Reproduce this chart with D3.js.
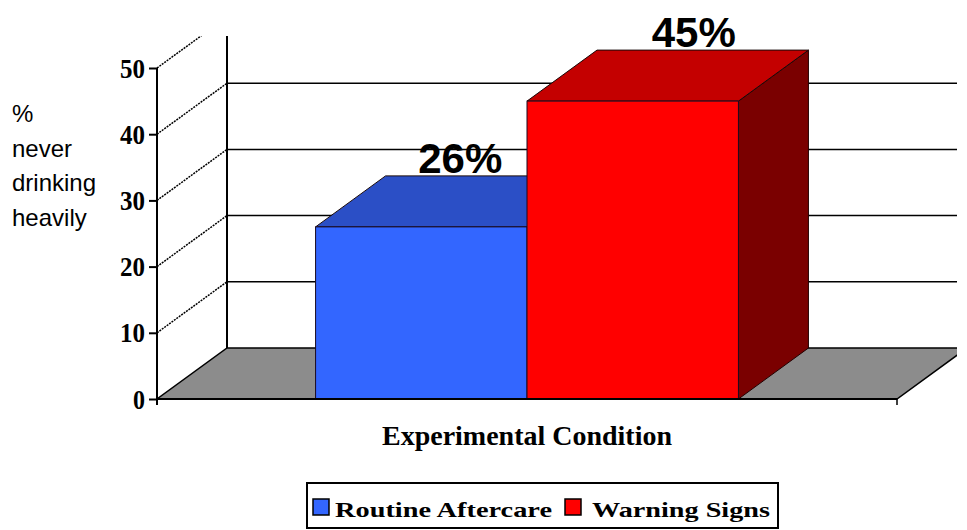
<!DOCTYPE html>
<html>
<head>
<meta charset="utf-8">
<script src="https://cdn.jsdelivr.net/npm/d3@7"></script>
<style>
  body { margin: 0; background: #fff; }
  #chart { width: 967px; height: 530px; }
</style>
</head>
<body>
<div id="chart"></div>
<script>
// Data
const categories = ["Routine Aftercare", "Warning Signs"];
const values = [26, 45];
const valueLabels = ["26%", "45%"];
const yTicks = [0, 10, 20, 30, 40, 50];
const yTitleLines = ["%", "never", "drinking", "heavily"];
const xTitle = "Experimental Condition";

// colours for each bar: front, top, side
const faceColors = [
  { front: "#3366ff", top: "#2b4fc6", side: "#1a3380" },
  { front: "#ff0000", top: "#c40000", side: "#7a0000" }
];

const width = 967;
const height = 530;

// 3D depth offset of the plot box
const depth = { dx: 70, dy: -51 };
const labelNudge = [39, 61];

const svg = d3.select("#chart").append("svg")
  .attr("width", width)
  .attr("height", height);

const y = d3.scaleLinear()
  .domain([0, 50])
  .range([399, 68]);

const x = d3.scaleBand()
  .domain(categories)
  .range([157, 897])
  .paddingInner(0)
  .paddingOuter(0.75);

const x0 = 157, x1 = 897;

// clip for the visible part of the walls
svg.append("defs").append("clipPath")
  .attr("id", "plotClip")
  .append("rect")
  .attr("x", 0).attr("y", 36)
  .attr("width", 957).attr("height", height - 36);

const walls = svg.append("g").attr("clip-path", "url(#plotClip)");

// floor
walls.append("path")
  .attr("d", `M${x0},${y(0)} L${x1},${y(0)} L${x1 + depth.dx},${y(0) + depth.dy} L${x0 + depth.dx},${y(0) + depth.dy} Z`)
  .attr("fill", "#8c8c8c")
  .attr("stroke", "#000")
  .attr("stroke-width", 1.5);

// back wall gridlines
walls.selectAll(".grid")
  .data(yTicks.filter(d => d > 0))
  .enter()
  .append("line")
  .attr("class", "grid")
  .attr("x1", x0 + depth.dx)
  .attr("x2", x1 + depth.dx)
  .attr("y1", d => y(d) + depth.dy)
  .attr("y2", d => y(d) + depth.dy)
  .attr("stroke", "#000")
  .attr("stroke-width", 1.5);

// side wall diagonals
walls.selectAll(".diag")
  .data(yTicks.filter(d => d > 0))
  .enter()
  .append("line")
  .attr("class", "diag")
  .attr("x1", x0)
  .attr("y1", d => y(d))
  .attr("x2", x0 + depth.dx)
  .attr("y2", d => y(d) + depth.dy)
  .attr("stroke", "#000")
  .attr("stroke-width", 1.5)
  .attr("stroke-dasharray", "2,1");

// back wall corner
walls.append("line")
  .attr("x1", x0 + depth.dx).attr("x2", x0 + depth.dx)
  .attr("y1", y(0) + depth.dy).attr("y2", 0)
  .attr("stroke", "#000")
  .attr("stroke-width", 2);

// bars
const bars = svg.selectAll(".bar")
  .data(categories)
  .enter()
  .append("g")
  .attr("class", "bar");

bars.each(function (c, i) {
  const g = d3.select(this);
  const bx0 = x(c);
  const bx1 = x(c) + x.bandwidth();
  const top = y(values[i]);
  const base = y(0);
  const { dx, dy } = depth;

  g.append("path")
    .attr("d", `M${bx1},${top} L${bx1 + dx},${top + dy} L${bx1 + dx},${base + dy} L${bx1},${base} Z`)
    .attr("fill", faceColors[i].side)
    .attr("stroke", "#220000")
    .attr("stroke-width", 1);

  g.append("path")
    .attr("d", `M${bx0},${top} L${bx0 + dx},${top + dy} L${bx1 + dx},${top + dy} L${bx1},${top} Z`)
    .attr("fill", faceColors[i].top)
    .attr("stroke", "#1a0a0a")
    .attr("stroke-width", 1);

  g.append("rect")
    .attr("x", bx0)
    .attr("y", top)
    .attr("width", bx1 - bx0)
    .attr("height", base - top)
    .attr("fill", faceColors[i].front)
    .attr("stroke", "#1a0a20")
    .attr("stroke-width", 1);
});

// front floor edge and right tick
svg.append("line")
  .attr("x1", x0).attr("x2", x1)
  .attr("y1", y(0)).attr("y2", y(0))
  .attr("stroke", "#000").attr("stroke-width", 2);

svg.append("line")
  .attr("x1", x1).attr("x2", x1)
  .attr("y1", y(0)).attr("y2", y(0) + 6)
  .attr("stroke", "#000").attr("stroke-width", 1.5);

// value labels
svg.selectAll(".value-label")
  .data(categories)
  .enter()
  .append("text")
  .attr("class", "value-label")
  .attr("x", (d, i) => x(d) + x.bandwidth() / 2 + labelNudge[i])
  .attr("y", (d, i) => y(values[i]) + depth.dy - 3)
  .attr("text-anchor", "middle")
  .style("font-family", "'Liberation Sans', Arial, sans-serif")
  .style("font-size", "42px")
  .style("font-weight", "bold")
  .text((d, i) => valueLabels[i]);

// y axis
const yAxis = d3.axisLeft(y)
  .tickValues(yTicks)
  .tickSize(8)
  .tickPadding(4)
  .tickSizeOuter(0);

const yAxisG = svg.append("g")
  .attr("class", "y-axis")
  .attr("transform", "translate(157,0)")
  .call(yAxis);

yAxisG.select(".domain")
  .attr("d", `M0,${y(50)} V${y(0) + 6}`)
  .attr("stroke-width", 2);

yAxisG.selectAll(".tick line").attr("stroke-width", 2);

yAxisG.selectAll("text")
  .attr("dy", "0.34em")
  .style("font-family", "'Liberation Serif', 'Times New Roman', serif")
  .style("font-size", "27px")
  .style("font-weight", "bold")
  .attr("fill", "#000")
  .attr("textLength", d => d === 0 ? 12 : 25)
  .attr("lengthAdjust", "spacingAndGlyphs");

// y title
svg.append("text")
  .style("font-family", "'Liberation Sans', Arial, sans-serif")
  .style("font-size", "24px")
  .attr("fill", "#000")
  .selectAll("tspan")
  .data(yTitleLines)
  .enter()
  .append("tspan")
  .attr("x", 12)
  .attr("y", (d, i) => 122 + i * 34.7)
  .text(d => d);

// x title
svg.append("text")
  .attr("x", 527)
  .attr("y", 445)
  .attr("text-anchor", "middle")
  .attr("textLength", 290)
  .attr("lengthAdjust", "spacingAndGlyphs")
  .style("font-family", "'Liberation Serif', 'Times New Roman', serif")
  .style("font-size", "27px")
  .style("font-weight", "bold")
  .text(xTitle);

// legend
const legend = svg.append("g").attr("class", "legend");

legend.append("rect")
  .attr("x", 307)
  .attr("y", 483)
  .attr("width", 471)
  .attr("height", 45)
  .attr("fill", "#fff")
  .attr("stroke", "#000")
  .attr("stroke-width", 2);

const legendX = [313, 565];
const legendTextX = [335, 592];
const legendTextW = [217, 178];

const items = legend.selectAll(".legend-item")
  .data(categories)
  .enter()
  .append("g")
  .attr("class", "legend-item");

items.append("rect")
  .attr("x", (d, i) => legendX[i])
  .attr("y", 499)
  .attr("width", 16)
  .attr("height", 16)
  .attr("fill", (d, i) => faceColors[i].front)
  .attr("stroke", "#000")
  .attr("stroke-width", 1.5);

items.append("text")
  .attr("x", (d, i) => legendTextX[i])
  .attr("y", 517)
  .attr("textLength", (d, i) => legendTextW[i])
  .attr("lengthAdjust", "spacingAndGlyphs")
  .style("font-family", "'Liberation Serif', 'Times New Roman', serif")
  .style("font-size", "22px")
  .style("font-weight", "bold")
  .text(d => d);
</script>
</body>
</html>
